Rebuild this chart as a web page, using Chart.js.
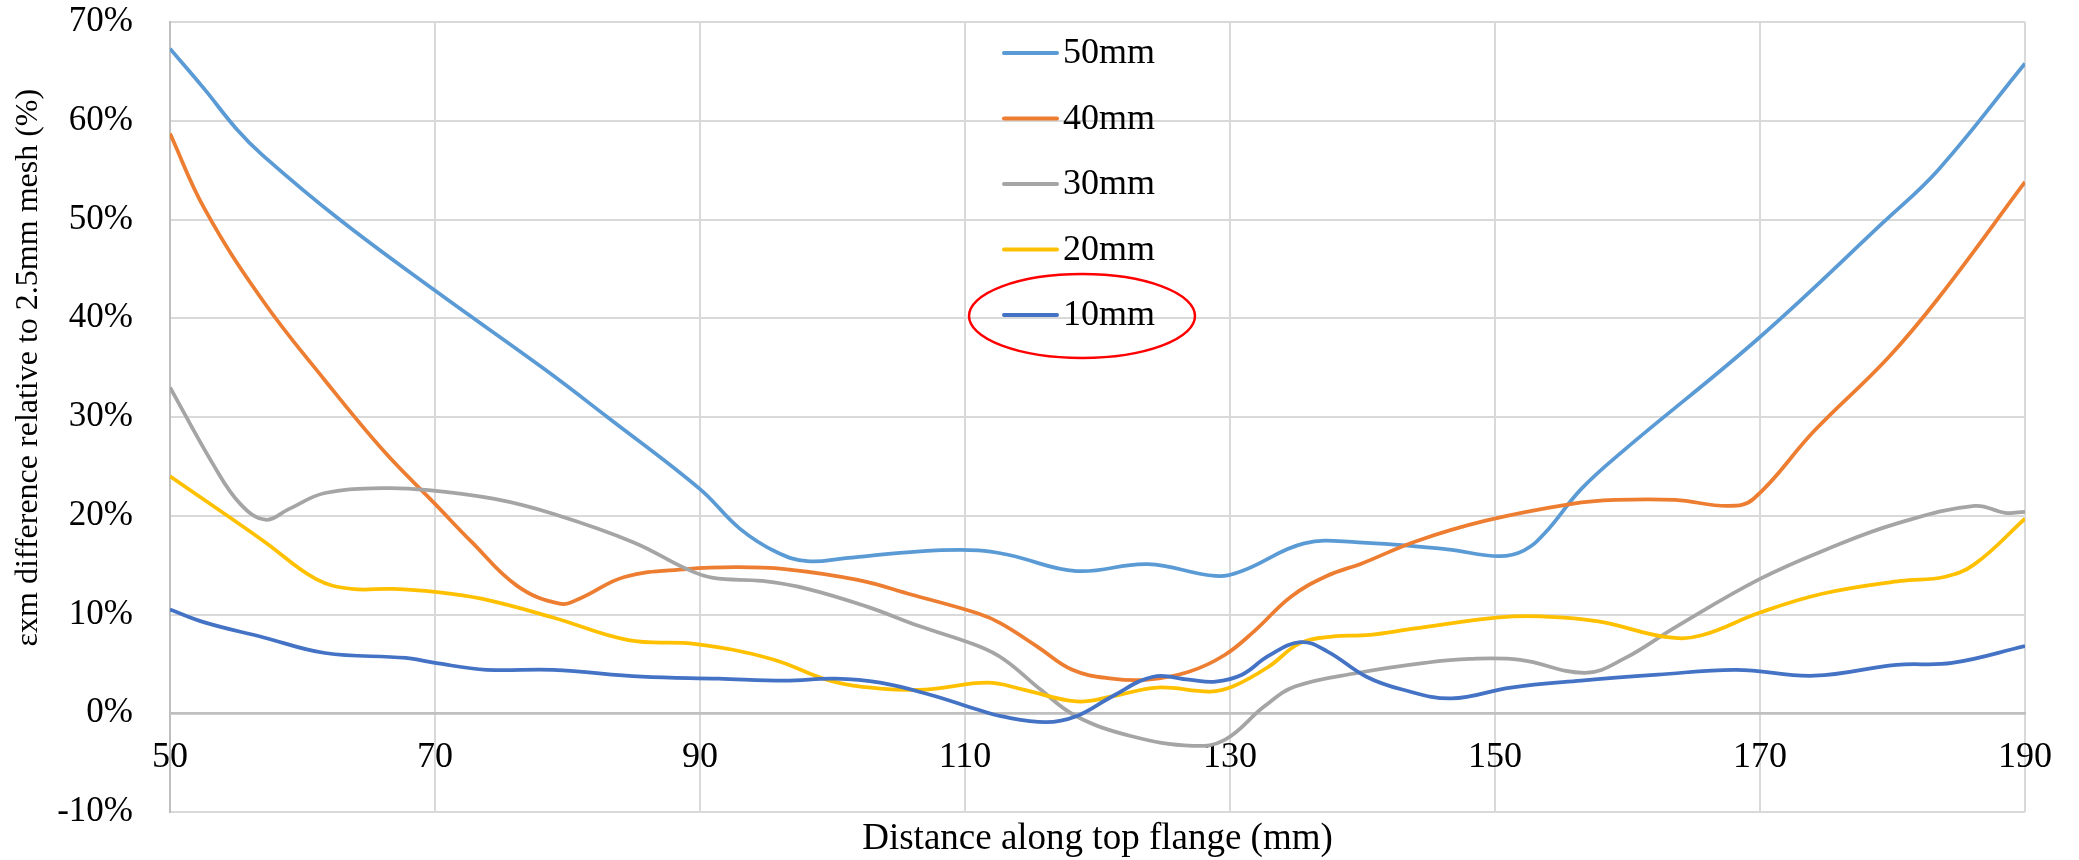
<!DOCTYPE html>
<html>
<head>
<meta charset="utf-8">
<script src="https://cdn.jsdelivr.net/npm/chart.js@4.4.0/dist/chart.umd.min.js"></script>
<style>
  html, body { margin: 0; padding: 0; background: #fff; }
  canvas { display: block; }
</style>
</head>
<body>
<canvas id="chart" width="2079" height="860"></canvas>
<script>
const xTitle = 'Distance along top flange (mm)';
const yTitle = 'εxm difference relative to 2.5mm mesh (%)';
const seriesNames = ['50mm', '40mm', '30mm', '20mm', '10mm'];
const seriesColors = ['#5B9BD5', '#ED7D31', '#A5A5A5', '#FFC000', '#4472C4'];

const pos50mm = [50, 52.6, 55, 57, 62.7, 70, 78.2, 83, 90, 93, 95.8, 98.1, 101, 106.6, 111, 113.4, 118.4, 123.8, 128.9, 130.9, 135.6, 139.7, 146.4, 150.3, 152.2, 153.8, 156.5, 159.7, 170, 179.3, 183.5, 190];
const val50mm = [67.3, 63.2, 59.2, 56.5, 50.1, 42.8, 34.9, 30.0, 22.7, 18.7, 16.3, 15.4, 15.7, 16.4, 16.5, 16.0, 14.4, 15.1, 13.9, 14.4, 17.2, 17.3, 16.6, 15.9, 16.5, 18.3, 22.7, 26.6, 38.1, 49.7, 55.1, 65.8];

const pos40mm = [50, 52.6, 57, 61.7, 66.1, 70, 72.8, 76.2, 79.4, 80.9, 84.3, 89, 92.7, 96.4, 101.9, 106, 111, 112.7, 115.4, 118.1, 121.1, 123.8, 126.9, 129.6, 131.9, 134.6, 137.3, 140, 144, 149.3, 155.8, 159.1, 163.6, 167.6, 169.5, 174.1, 179.6, 183.5, 190];
const val40mm = [58.7, 51.1, 41.8, 33.7, 26.6, 21.2, 17.3, 12.9, 11.1, 11.6, 13.8, 14.6, 14.8, 14.6, 13.5, 12.0, 10.1, 9.1, 6.8, 4.4, 3.5, 3.4, 4.2, 5.9, 8.4, 11.8, 13.9, 15.2, 17.4, 19.5, 21.2, 21.6, 21.6, 21.0, 21.7, 28.6, 35.9, 42.1, 53.8];

const pos30mm = [50, 53.3, 55.3, 57.2, 59, 61.7, 66.1, 69.5, 74.5, 78.9, 85, 89, 91, 94.7, 98.1, 102.6, 106.6, 111, 113, 115.7, 118.4, 122.5, 127.2, 129.6, 132.6, 134.9, 139.7, 144.7, 148.1, 151.9, 156.8, 159.7, 163.6, 170, 175.4, 180.3, 186.2, 188.5, 190];
const val30mm = [33.0, 25.1, 21.2, 19.6, 20.7, 22.3, 22.8, 22.6, 21.7, 20.2, 17.3, 14.6, 13.7, 13.4, 12.6, 10.8, 8.8, 6.8, 5.4, 2.4, -0.3, -2.3, -3.3, -2.7, 0.7, 2.7, 4.1, 5.1, 5.5, 5.4, 4.1, 5.5, 8.7, 13.6, 16.8, 19.2, 21.0, 20.3, 20.4];

const pos20mm = [50, 57, 61, 63.7, 66.8, 70, 73.5, 78.9, 84.6, 89.7, 95.4, 99.8, 103.6, 107, 111.7, 114.4, 118.4, 121.1, 124.5, 128.5, 130.2, 132.9, 135.3, 138, 140.3, 144, 150.3, 153.5, 157.8, 163, 165.6, 170, 174.7, 180.6, 183.9, 186.2, 190];
const val20mm = [24.0, 17.5, 13.6, 12.6, 12.6, 12.3, 11.6, 9.7, 7.4, 7.0, 5.5, 3.3, 2.5, 2.4, 3.1, 2.4, 1.2, 1.7, 2.6, 2.2, 2.7, 4.7, 7.1, 7.8, 7.9, 8.6, 9.7, 9.8, 9.3, 7.7, 7.9, 10.2, 12.1, 13.4, 13.8, 15.1, 19.7];

const pos10mm = [50, 52.6, 57, 61.7, 67.8, 70, 73.9, 78.9, 85.6, 91.4, 96.4, 100.2, 103.6, 107.3, 111, 112.7, 116.1, 118.4, 121.1, 124.2, 126.9, 128.9, 130.9, 132.9, 135.3, 137.3, 140.3, 143, 146.7, 151.2, 156.5, 162.3, 168.2, 174.1, 180.3, 184.5, 190];
const val10mm = [10.5, 9.2, 7.7, 6.1, 5.6, 5.1, 4.4, 4.4, 3.7, 3.5, 3.3, 3.5, 3.1, 1.9, 0.35, -0.3, -0.9, -0.3, 1.7, 3.7, 3.4, 3.2, 3.9, 5.8, 7.2, 6.3, 3.7, 2.4, 1.5, 2.6, 3.3, 3.9, 4.4, 3.8, 4.9, 5.1, 6.8];

const positions = [pos50mm, pos40mm, pos30mm, pos20mm, pos10mm];
const values = [val50mm, val40mm, val30mm, val20mm, val10mm];

const FONT = '"Liberation Serif", "Times New Roman", serif';

const datasets = seriesNames.map((name, i) => ({
  label: name,
  data: positions[i].map((x, j) => ({ x: x, y: values[i][j] })),
  borderColor: seriesColors[i],
  backgroundColor: seriesColors[i],
  borderWidth: 3.75,
  pointRadius: 0,
  showLine: true,
  tension: 0.4,
  order: 5 - i
}));

// legend, axis titles and the red ring are drawn by hand on top
const overlay = {
  id: 'overlay',
  afterDraw(chart) {
    const c = chart.ctx;
    const area = chart.chartArea;
    const zeroY = chart.scales.y.getPixelForValue(0);
    c.save();
    c.fillStyle = '#000';
    c.textAlign = 'center';
    c.textBaseline = 'middle';
    c.font = '37px ' + FONT;
    c.fillText(xTitle, (area.left + area.right) / 2, 839);
    c.translate(29, (area.top + zeroY) / 2);
    c.rotate(-Math.PI / 2);
    c.font = '32px ' + FONT;
    c.fillText(yTitle, 0, 0);
    c.restore();

    c.save();
    c.font = '36px ' + FONT;
    c.textAlign = 'left';
    c.textBaseline = 'middle';
    c.lineCap = 'round';
    chart.data.datasets.forEach((ds, i) => {
      const y = 53 + i * 65.5;
      c.strokeStyle = ds.borderColor;
      c.lineWidth = 4;
      c.beginPath();
      c.moveTo(1004, y);
      c.lineTo(1057, y);
      c.stroke();
      c.fillStyle = '#000';
      c.fillText(ds.label, 1063, y + 1);
    });
    c.strokeStyle = '#FF0000';
    c.lineWidth = 2.5;
    c.beginPath();
    c.ellipse(1082, 316, 113, 42, 0, 0, Math.PI * 2);
    c.stroke();
    c.restore();
  }
};

new Chart(document.getElementById('chart'), {
  type: 'scatter',
  data: { datasets: datasets },
  plugins: [overlay],
  options: {
    responsive: false,
    animation: false,
    layout: { padding: { left: 0, right: 54, top: 22, bottom: 48 } },
    plugins: { legend: { display: false }, tooltip: { enabled: false } },
    scales: {
      x: {
        type: 'linear',
        min: 50,
        max: 190,
        position: { y: 0 },
        afterFit: s => { s.height = 48; s.paddingLeft = 0; s.paddingRight = 0; },
        ticks: { stepSize: 20, color: '#000', font: { family: FONT, size: 36 }, padding: 23 },
        grid: { color: '#d9d9d9', lineWidth: 2, drawTicks: false },
        border: { color: '#bfbfbf', width: 2.5 }
      },
      y: {
        min: -10,
        max: 70,
        afterFit: s => { s.width = 170; s.paddingTop = 0; s.paddingBottom = 0; },
        ticks: { stepSize: 10, color: '#000', font: { family: FONT, size: 35 }, padding: 37, callback: v => v + '%' },
        grid: {
          color: ctx => ctx.tick && ctx.tick.value === 0 ? '#bfbfbf' : '#d9d9d9',
          lineWidth: ctx => ctx.tick && ctx.tick.value === 0 ? 2.5 : 2,
          drawTicks: false
        },
        border: { color: '#bfbfbf', width: 2 }
      }
    }
  }
});
</script>
</body>
</html>
